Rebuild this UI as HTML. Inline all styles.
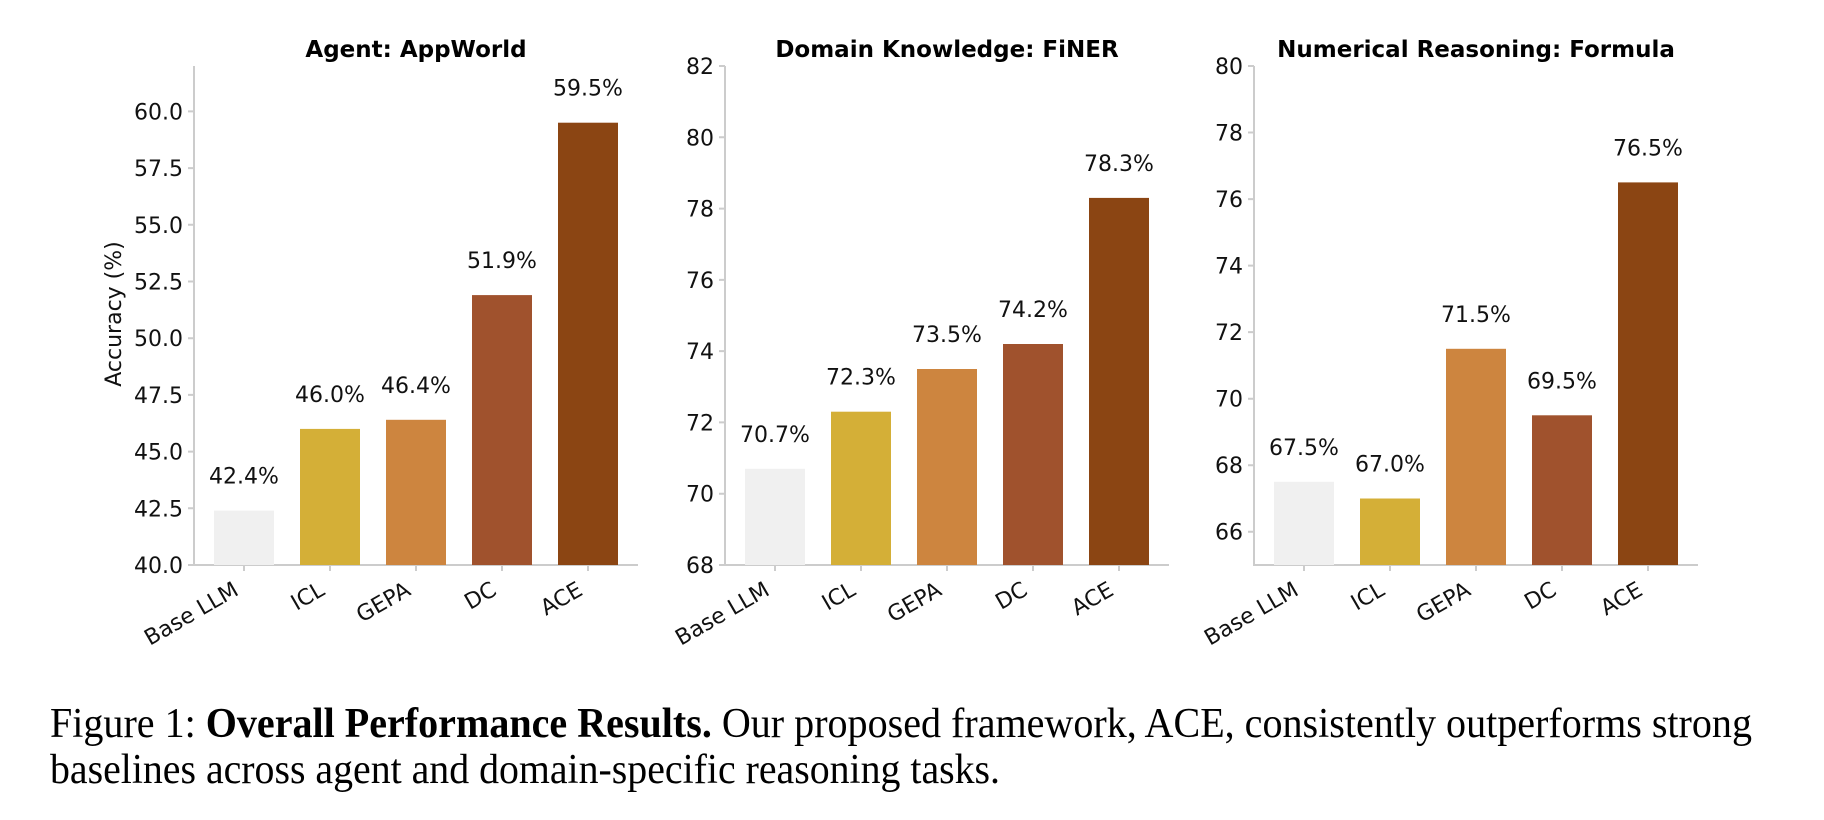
<!DOCTYPE html>
<html><head><meta charset="utf-8"><style>
html,body{margin:0;padding:0;background:#fff;width:1824px;height:820px;overflow:hidden}
svg{display:block}
.t{font-family:"DejaVu Sans","Liberation Sans",sans-serif;font-size:22px;fill:#111}
.ti{font-family:"DejaVu Sans","Liberation Sans",sans-serif;font-size:23px;font-weight:bold;fill:#000}
.cap{font-family:"Liberation Serif",serif;font-size:42px;fill:#000}
</style></head><body>
<svg width="1824" height="820" viewBox="0 0 1824 820">
<g stroke="#cccccc" stroke-width="2" fill="none">
<path d="M194,66V565H638"/><path d="M725,66V565H1169"/><path d="M1254,66V565H1698"/>
<path d="M188,565H194M188,508.3H194M188,451.6H194M188,394.9H194M188,338.2H194M188,281.5H194M188,224.8H194M188,168.1H194M188,111.4H194"/>
<path d="M719,565H725M719,493.7H725M719,422.4H725M719,351.1H725M719,279.9H725M719,208.6H725M719,137.3H725M719,66H725"/>
<path d="M1248,531.7H1254M1248,465.2H1254M1248,398.7H1254M1248,332.1H1254M1248,265.6H1254M1248,199.1H1254M1248,132.5H1254M1248,66H1254"/>
<path d="M244,565V571M330,565V571M416,565V571M502,565V571M588,565V571M775,565V571M861,565V571M947,565V571M1033,565V571M1119,565V571M1304,565V571M1390,565V571M1476,565V571M1562,565V571M1648,565V571"/>
</g>
<g>
<rect x="214" y="510.6" width="60" height="54.4" fill="#f0f0f0"/>
<rect x="300" y="428.9" width="60" height="136.1" fill="#d4af37"/>
<rect x="386" y="419.8" width="60" height="145.2" fill="#cd853f"/>
<rect x="472" y="295.1" width="60" height="269.9" fill="#a0522d"/>
<rect x="558" y="122.7" width="60" height="442.3" fill="#8b4513"/>
<rect x="745" y="468.8" width="60" height="96.2" fill="#f0f0f0"/>
<rect x="831" y="411.7" width="60" height="153.3" fill="#d4af37"/>
<rect x="917" y="369.0" width="60" height="196" fill="#cd853f"/>
<rect x="1003" y="344.0" width="60" height="221" fill="#a0522d"/>
<rect x="1089" y="197.9" width="60" height="367.1" fill="#8b4513"/>
<rect x="1274" y="481.8" width="60" height="83.2" fill="#f0f0f0"/>
<rect x="1360" y="498.5" width="60" height="66.5" fill="#d4af37"/>
<rect x="1446" y="348.8" width="60" height="216.2" fill="#cd853f"/>
<rect x="1532" y="415.3" width="60" height="149.7" fill="#a0522d"/>
<rect x="1618" y="182.4" width="60" height="382.6" fill="#8b4513"/>
</g>
<g class="t" text-anchor="end">
<text x="183" y="573">40.0</text><text x="183" y="516.3">42.5</text><text x="183" y="459.6">45.0</text><text x="183" y="402.9">47.5</text><text x="183" y="346.2">50.0</text><text x="183" y="289.5">52.5</text><text x="183" y="232.8">55.0</text><text x="183" y="176.1">57.5</text><text x="183" y="119.4">60.0</text>
<text x="714" y="573">68</text><text x="714" y="501.7">70</text><text x="714" y="430.4">72</text><text x="714" y="359.1">74</text><text x="714" y="287.9">76</text><text x="714" y="216.6">78</text><text x="714" y="145.3">80</text><text x="714" y="74">82</text>
<text x="1243" y="539.7">66</text><text x="1243" y="473.2">68</text><text x="1243" y="406.7">70</text><text x="1243" y="340.1">72</text><text x="1243" y="273.6">74</text><text x="1243" y="207.1">76</text><text x="1243" y="140.5">78</text><text x="1243" y="74">80</text>
</g>
<text class="t" transform="translate(121,314) rotate(-90)" text-anchor="middle">Accuracy (%)</text>
<g class="t" text-anchor="middle">
<text x="244" y="483.6">42.4%</text><text x="330" y="401.9">46.0%</text><text x="416" y="392.8">46.4%</text><text x="502" y="268.1">51.9%</text><text x="588" y="95.7">59.5%</text>
<text x="775" y="441.8">70.7%</text><text x="861" y="384.7">72.3%</text><text x="947" y="342.0">73.5%</text><text x="1033" y="317.0">74.2%</text><text x="1119" y="170.9">78.3%</text>
<text x="1304" y="454.8">67.5%</text><text x="1390" y="471.5">67.0%</text><text x="1476" y="321.8">71.5%</text><text x="1562" y="388.3">69.5%</text><text x="1648" y="155.4">76.5%</text>
</g>
<g class="t" text-anchor="end">
<text transform="translate(240,594) rotate(-30)">Base LLM</text><text transform="translate(326,594) rotate(-30)">ICL</text><text transform="translate(412,594) rotate(-30)">GEPA</text><text transform="translate(498,594) rotate(-30)">DC</text><text transform="translate(584,594) rotate(-30)">ACE</text>
<text transform="translate(771,594) rotate(-30)">Base LLM</text><text transform="translate(857,594) rotate(-30)">ICL</text><text transform="translate(943,594) rotate(-30)">GEPA</text><text transform="translate(1029,594) rotate(-30)">DC</text><text transform="translate(1115,594) rotate(-30)">ACE</text>
<text transform="translate(1300,594) rotate(-30)">Base LLM</text><text transform="translate(1386,594) rotate(-30)">ICL</text><text transform="translate(1472,594) rotate(-30)">GEPA</text><text transform="translate(1558,594) rotate(-30)">DC</text><text transform="translate(1644,594) rotate(-30)">ACE</text>
</g>
<g class="ti" text-anchor="middle">
<text x="416" y="57">Agent: AppWorld</text><text x="947" y="57">Domain Knowledge: FiNER</text><text x="1476" y="57">Numerical Reasoning: Formula</text>
</g>
<text class="cap" x="50" y="737" textLength="1702" lengthAdjust="spacingAndGlyphs">Figure 1: <tspan font-weight="bold">Overall Performance Results.</tspan> Our proposed framework, ACE, consistently outperforms strong</text>
<text class="cap" x="50" y="783" textLength="950" lengthAdjust="spacingAndGlyphs">baselines across agent and domain-specific reasoning tasks.</text>
</svg>
</body></html>
